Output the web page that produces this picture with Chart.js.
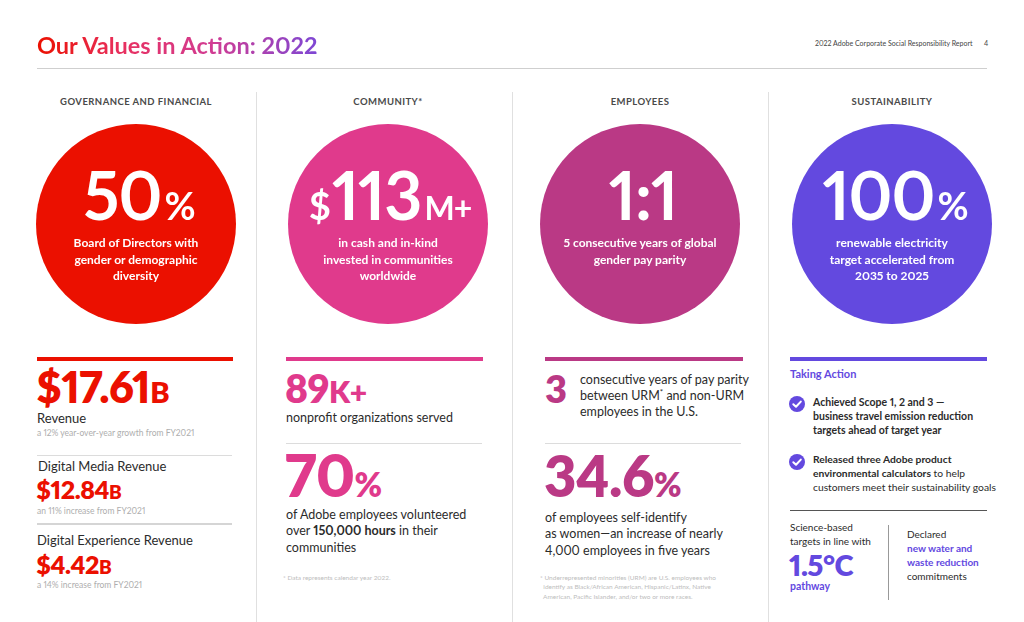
<!DOCTYPE html>
<html><head><meta charset="utf-8">
<script src="https://cdn.jsdelivr.net/npm/chart.js@4.4.1/dist/chart.umd.min.js"></script>
<style>
html,body{margin:0;padding:0;background:#fff;}
body{width:1024px;height:622px;position:relative;overflow:hidden;font-family:Lato,"Open Sans",sans-serif;color:#2b2b2b;font-variant-numeric:proportional-nums;}
.a{position:absolute;white-space:nowrap;}
.c{transform:translateX(-50%);text-align:center;}
.rule{position:absolute;}
.head{font-weight:700;font-size:9.5px;letter-spacing:0.45px;color:#4a4a4a;line-height:1;}
.cap{color:#fff;font-weight:700;font-size:12px;line-height:16.5px;}
.big{color:#fff;font-weight:700;line-height:1;letter-spacing:-1px;}
.num{font-weight:800;line-height:1;letter-spacing:-0.5px;}
.body{font-size:12.5px;line-height:16.5px;color:#2b2b2b;}
.sm{font-size:8.5px;color:#aeaeae;line-height:1;}
.fn{font-size:6.5px;color:#bdbdbd;line-height:9.5px;}
.chk{position:absolute;width:16px;height:16px;}
#chart{position:absolute;left:10px;top:122px;}
</style></head><body>
<div id="title" class="a" data-b="55" style="left:37px;font-size:23.5px;font-weight:700;line-height:1;background:linear-gradient(90deg,#EB1000 0%,#E8305F 30%,#D23C92 62%,#7E47D4 100%);-webkit-background-clip:text;background-clip:text;color:transparent;"></div>
<div id="report" class="a" data-b="46" style="left:815px;font-size:7px;color:#444;line-height:1;"></div>
<div class="a" data-b="46" style="left:984px;font-size:7px;color:#444;line-height:1;">4</div>
<div class="rule" style="left:37px;top:68px;width:950px;height:1px;background:#cfcfcf;"></div>

<div class="rule" style="left:256px;top:92px;width:1px;height:530px;background:#e0e0e0;"></div>
<div class="rule" style="left:512px;top:92px;width:1px;height:530px;background:#e0e0e0;"></div>
<div class="rule" style="left:768px;top:92px;width:1px;height:530px;background:#e0e0e0;"></div>

<canvas id="chart" width="1008" height="204"></canvas>
<div id="overlay"></div>

<!-- Column 1 -->
<div class="rule" style="left:37px;top:357px;width:196px;height:4px;background:#EB1000;"></div>
<div class="a num" data-b="403" style="left:36px;font-size:43px;color:#EB1000;"><span id="rev0"></span><span style="font-size:29px;">B</span></div>
<div class="a body" data-b="423" style="left:37px;font-size:13px;">Revenue</div>
<div class="a sm" data-b="437" style="left:37px;" id="revg0"></div>
<div class="rule" style="left:37px;top:455px;width:195px;height:1px;background:#dcdcdc;"></div>
<div class="a body" data-b="471" style="left:38px;font-size:13px;" id="revl1"></div>
<div class="a num" data-b="499" style="left:36px;font-size:25px;color:#EB1000;"><span id="rev1"></span><span style="font-size:19px;">B</span></div>
<div class="a sm" data-b="515" style="left:37px;" id="revg1"></div>
<div class="rule" style="left:37px;top:523px;width:195px;height:2px;background:#d5d5d5;"></div>
<div class="a body" data-b="545" style="left:37px;font-size:13px;" id="revl2"></div>
<div class="a num" data-b="574" style="left:36px;font-size:25px;color:#EB1000;"><span id="rev2"></span><span style="font-size:19px;">B</span></div>
<div class="a sm" data-b="589" style="left:37px;" id="revg2"></div>

<!-- Column 2 -->
<div class="rule" style="left:286px;top:357px;width:197px;height:4px;background:#E03A8C;"></div>
<div class="a num" data-b="404" style="left:285px;font-size:39px;color:#E03A8C;"><span id="nonprofits"></span><span style="font-size:30px;">K+</span></div>
<div class="a body" data-b="423" style="left:286px;">nonprofit organizations served</div>
<div class="rule" style="left:286px;top:443px;width:196px;height:1px;background:#dcdcdc;"></div>
<div class="a num" data-b="497" style="left:285px;font-size:58px;color:#E03A8C;"><span id="volunteer"></span><span style="font-size:33px;">%</span></div>
<div class="a body" data-b="520" style="left:286px;">of Adobe employees volunteered<br>over <b id="hours"></b> in their<br>communities</div>
<div class="a fn" data-b="580" style="left:283px;">* Data represents calendar year 2022.</div>

<!-- Column 3 -->
<div class="rule" style="left:545px;top:357px;width:198px;height:4px;background:#BA3985;"></div>
<div class="a num" data-b="403" style="left:545px;font-size:38px;color:#BA3985;" id="urmYears"></div>
<div class="a body" data-b="385" style="left:580px;line-height:16px;">consecutive years of pay parity<br>between URM<sup style="font-size:8px;line-height:0;">*</sup> and non-URM<br>employees in the U.S.</div>
<div class="rule" style="left:545px;top:443px;width:196px;height:1px;background:#dcdcdc;"></div>
<div class="a num" data-b="498" style="left:544px;font-size:56px;color:#BA3985;"><span id="women"></span><span style="font-size:33px;">%</span></div>
<div class="a body" data-b="523" style="left:545px;">of employees self-identify<br>as women—an increase of nearly<br><span id="womenInc"></span> employees in five years</div>
<div class="a fn" data-b="580" style="left:540px;">* Underrepresented minorities (URM) are U.S. employees who<br>&nbsp;&nbsp;identify as Black/African American, Hispanic/Latinx, Native<br>&nbsp;&nbsp;American, Pacific Islander, and/or two or more races.</div>

<!-- Column 4 -->
<div class="rule" style="left:790px;top:357px;width:197px;height:4px;background:#6349DF;"></div>
<div class="a" data-b="378" style="left:790px;font-size:11px;font-weight:700;color:#6349DF;line-height:1;">Taking Action</div>
<svg class="chk" style="left:789px;top:396px;" viewBox="0 0 16 16"><circle cx="8" cy="8" r="8" fill="#6349DF"/><path d="M4.3 8.2 L7 10.8 L11.8 5.6" stroke="#fff" stroke-width="2" fill="none" stroke-linecap="round" stroke-linejoin="round"/></svg>
<svg class="chk" style="left:789px;top:454px;" viewBox="0 0 16 16"><circle cx="8" cy="8" r="8" fill="#6349DF"/><path d="M4.3 8.2 L7 10.8 L11.8 5.6" stroke="#fff" stroke-width="2" fill="none" stroke-linecap="round" stroke-linejoin="round"/></svg>
<div class="a" data-b="406" style="left:813px;font-size:10.5px;line-height:14px;font-weight:700;color:#2b2b2b;">Achieved Scope 1, 2 and 3 —<br>business travel emission reduction<br>targets ahead of target year</div>
<div class="a" data-b="463" style="left:813px;font-size:10.3px;line-height:14px;color:#2b2b2b;"><b>Released three Adobe product</b><br><b>environmental calculators</b> to help<br>customers meet their sustainability goals</div>
<div class="rule" style="left:790px;top:510px;width:197px;height:1px;background:#555;"></div>
<div class="a" data-b="531" style="left:790px;font-size:10px;line-height:14px;color:#2b2b2b;">Science-based<br>targets in line with</div>
<div class="a num" data-b="576" style="left:789px;font-size:29px;color:#6349DF;"><span id="pathway"></span>°C</div>
<div class="a" data-b="590" style="left:790px;font-size:10.5px;font-weight:700;color:#6349DF;line-height:1;">pathway</div>
<div class="rule" style="left:888px;top:525px;width:1px;height:75px;background:#999;"></div>
<div class="a" data-b="538" style="left:907px;font-size:10px;line-height:14px;color:#2b2b2b;">Declared<br><b style="color:#6349DF;">new water and</b><br><b style="color:#6349DF;">waste reduction</b><br>commitments</div>

<script>
// ---- Data ----
const titleText = 'Our Values in Action: 2022';
const reportText = '2022 Adobe Corporate Social Responsibility Report';
const categories = ['GOVERNANCE AND FINANCIAL', 'COMMUNITY*', 'EMPLOYEES', 'SUSTAINABILITY'];
const headlinePrefix = ['', '$', '', ''];
const headlineNumber = ['50', '113', '1:1', '100'];
const headlineSuffix = ['%', 'M+', '', '%'];
const headlineCaption = [
  ['Board of Directors with', 'gender or demographic', 'diversity'],
  ['in cash and in-kind', 'invested in communities', 'worldwide'],
  ['5 consecutive years of global', 'gender pay parity'],
  ['renewable electricity', 'target accelerated from', '2035 to 2025']
];
const circleColors = ['#EB1000', '#E03A8C', '#BA3985', '#6349DF'];
const revenueLabels = ['Revenue', 'Digital Media Revenue', 'Digital Experience Revenue'];
const revenueBillions = ['$17.61', '$12.84', '$4.42'];
const revenueGrowth = ['a 12% year-over-year growth from FY2021', 'an 11% increase from FY2021', 'a 14% increase from FY2021'];
const nonprofitsK = '89';
const volunteerPct = '70';
const volunteerHours = '150,000 hours';
const urmParityYears = '3';
const womenPct = '34.6';
const womenIncrease = '4,000';
const pathwayDeg = '1.5';

// ---- Text fill ----
document.getElementById('title').textContent = titleText;
document.getElementById('report').textContent = reportText;
revenueBillions.forEach((v, i) => { document.getElementById('rev' + i).textContent = v; document.getElementById('revg' + i).textContent = revenueGrowth[i]; });
document.getElementById('revl1').textContent = revenueLabels[1];
document.getElementById('revl2').textContent = revenueLabels[2];
document.getElementById('nonprofits').textContent = nonprofitsK;
document.getElementById('volunteer').textContent = volunteerPct;
document.getElementById('hours').textContent = volunteerHours;
document.getElementById('urmYears').textContent = urmParityYears;
document.getElementById('women').textContent = womenPct;
document.getElementById('womenInc').textContent = womenIncrease;
document.getElementById('pathway').textContent = pathwayDeg;

// ---- Chart: the four headline circles ----
const chart = new Chart(document.getElementById('chart'), {
  type: 'bubble',
  data: {
    labels: categories,
    datasets: [{
      data: categories.map(c => ({ x: c, y: 'headline' })),
      backgroundColor: circleColors,
      borderWidth: 0,
      radius: 100,
      hoverRadius: 0,
      clip: false
    }]
  },
  options: {
    responsive: false,
    animation: false,
    events: [],
    layout: { padding: 0, autoPadding: false },
    plugins: { legend: { display: false }, tooltip: { enabled: false } },
    scales: {
      x: { type: 'category', labels: categories, offset: true, display: false },
      y: { type: 'category', labels: ['headline'], offset: true, display: false }
    }
  }
});

// headings and circle texts placed from the chart's own scales
const ov = document.getElementById('overlay');
const cvLeft = 10, cvTop = 122;
const xs = chart.scales.x, ys = chart.scales.y;
categories.forEach((c, i) => {
  const cx = cvLeft + xs.getPixelForValue(i);
  const cy = cvTop + ys.getPixelForValue(0);
  const h = document.createElement('div');
  h.className = 'a c head'; h.dataset.b = 105; h.style.left = cx + 'px'; h.textContent = c;
  ov.appendChild(h);
  const n = document.createElement('div');
  n.className = 'a c big'; n.dataset.b = cy - 3; n.style.left = (cx + 2) + 'px'; n.style.fontSize = '66px';
  const p = document.createElement('span'); p.style.fontSize = '38px'; p.style.marginRight = '2px'; p.textContent = headlinePrefix[i];
  const m = document.createElement('span'); m.textContent = headlineNumber[i];
  const s = document.createElement('span'); s.style.fontSize = headlineSuffix[i] === '%' ? '38px' : '32px'; s.style.marginLeft = '3px'; s.textContent = headlineSuffix[i];
  n.appendChild(p); n.appendChild(m); if (headlineSuffix[i]) n.appendChild(s);
  ov.appendChild(n);
  const cap = document.createElement('div');
  cap.className = 'a c cap'; cap.dataset.b = cy + 24; cap.style.left = cx + 'px';
  cap.innerHTML = headlineCaption[i].map(t => t.replace(/&/g, '&amp;')).join('<br>');
  ov.appendChild(cap);
});

// position each text block by its first baseline
document.querySelectorAll('[data-b]').forEach(el => {
  const cs = getComputedStyle(el);
  const f = parseFloat(cs.fontSize);
  const L = cs.lineHeight === 'normal' ? 1.2 * f : parseFloat(cs.lineHeight);
  el.style.top = (parseFloat(el.dataset.b) - L / 2 - 0.387 * f) + 'px';
});
</script>
</body></html>
